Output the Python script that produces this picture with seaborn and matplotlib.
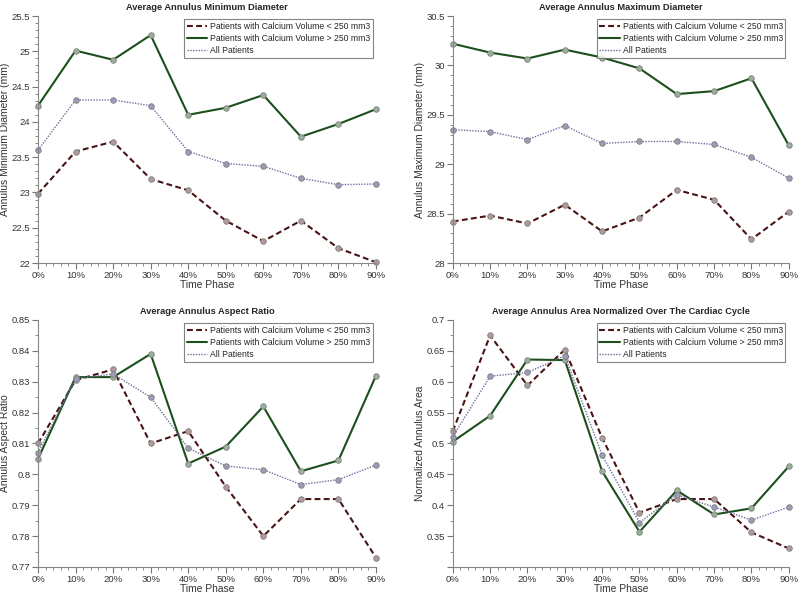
import numpy as np
import pandas as pd
import seaborn as sns
import matplotlib.pyplot as plt
from matplotlib.ticker import MultipleLocator, FuncFormatter

# Data
phases = [0, 10, 20, 30, 40, 50, 60, 70, 80, 90]
phase_labels = ['0%', '10%', '20%', '30%', '40%', '50%', '60%', '70%', '80%', '90%']
series_names = ['Patients with Calcium Volume < 250 mm3',
                'Patients with Calcium Volume > 250 mm3',
                'All Patients']

min_low = [22.98, 23.58, 23.72, 23.19, 23.03, 22.60, 22.31, 22.60, 22.21, 22.01]
min_high = [24.23, 25.01, 24.88, 25.23, 24.10, 24.20, 24.38, 23.79, 23.97, 24.18]
min_all = [23.60, 24.31, 24.31, 24.23, 23.58, 23.41, 23.37, 23.20, 23.11, 23.12]

max_low = [28.42, 28.48, 28.40, 28.59, 28.32, 28.46, 28.74, 28.64, 28.24, 28.52]
max_high = [30.22, 30.13, 30.07, 30.16, 30.08, 29.97, 29.71, 29.74, 29.87, 29.19]
max_all = [29.35, 29.33, 29.25, 29.39, 29.21, 29.23, 29.23, 29.20, 29.07, 28.86]

ar_low = [0.810, 0.8305, 0.834, 0.810, 0.814, 0.796, 0.780, 0.792, 0.792, 0.773]
ar_high = [0.805, 0.8315, 0.8315, 0.839, 0.8035, 0.809, 0.822, 0.801, 0.8045, 0.832]
ar_all = [0.807, 0.831, 0.8325, 0.825, 0.8085, 0.8027, 0.8015, 0.7967, 0.7983, 0.803]

area_low = [0.520, 0.675, 0.594, 0.652, 0.509, 0.388, 0.410, 0.410, 0.356, 0.330]
area_high = [0.503, 0.545, 0.636, 0.635, 0.455, 0.357, 0.424, 0.385, 0.395, 0.463]
area_all = [0.511, 0.609, 0.615, 0.642, 0.481, 0.372, 0.417, 0.397, 0.376, 0.397]

sns.set_theme(style='white')
plt.rcParams['font.family'] = ['Liberation Sans', 'DejaVu Sans']

line_colors = ['#4a1414', '#1c4f1c', '#6e6e9c']
marker_faces = ['#b39a9a', '#98b098', '#9c9cb8']
line_styles = [(0, (2.8, 1.6)), '-', (0, (1, 1))]
line_widths = [1.5, 1.5, 1.0]

panels = [
    dict(title='Average Annulus Minimum Diameter', ylabel='Annulus Minimum Diameter (mm)',
         data=[min_low, min_high, min_all], ylim=(22, 25.5), major=0.5, minor=0.1),
    dict(title='Average Annulus Maximum Diameter', ylabel='Annulus Maximum Diameter (mm)',
         data=[max_low, max_high, max_all], ylim=(28, 30.5), major=0.5, minor=0.1),
    dict(title='Average Annulus Aspect Ratio', ylabel='Annulus Aspect Ratio',
         data=[ar_low, ar_high, ar_all], ylim=(0.77, 0.85), major=0.01, minor=0.005),
    dict(title='Average Annulus Area Normalized Over The Cardiac Cycle', ylabel='Normalized Annulus Area',
         data=[area_low, area_high, area_all], ylim=(0.3, 0.7), major=0.05, minor=0.025),
]

positions = [
    [0.0475, 0.5587, 0.4225, 0.4144],
    [0.566, 0.5587, 0.420, 0.4144],
    [0.0475, 0.0487, 0.4225, 0.4144],
    [0.566, 0.0487, 0.420, 0.4144],
]

fig = plt.figure(figsize=(8, 5.96), dpi=100)

for pos, p in zip(positions, panels):
    ax = fig.add_axes(pos)
    for i, vals in enumerate(p['data']):
        df = pd.DataFrame({'phase': phases, 'value': vals})
        sns.lineplot(data=df, x='phase', y='value', ax=ax, color=line_colors[i],
                     linestyle=line_styles[i], linewidth=line_widths[i],
                     marker='o', markersize=4, markerfacecolor=marker_faces[i],
                     markeredgecolor='#808080', markeredgewidth=0.6,
                     label=series_names[i], clip_on=False)
    ax.set_xlim(0, 90)
    ax.set_ylim(*p['ylim'])
    ax.set_xticks(phases)
    ax.set_xticklabels(phase_labels)
    ax.xaxis.set_minor_locator(MultipleLocator(2))
    ax.yaxis.set_major_locator(MultipleLocator(p['major']))
    ax.yaxis.set_minor_locator(MultipleLocator(p['minor']))
    lo = p['ylim'][0]
    ax.yaxis.set_major_formatter(FuncFormatter(
        lambda v, _pos, lo=lo: '' if (lo == 0.3 and abs(v - 0.3) < 1e-9) else f'{round(v, 3):g}'))
    ax.tick_params(axis='both', which='major', labelsize=6.8, labelcolor='#333333',
                   color='#777777', length=4, width=0.8, direction='out', pad=1.5,
                   bottom=True, left=True)
    ax.tick_params(axis='both', which='minor', length=2.5, width=0.6, color='#777777',
                   direction='out', bottom=True, left=True)
    for s in ['top', 'right']:
        ax.spines[s].set_visible(False)
    for s in ['left', 'bottom']:
        ax.spines[s].set_color('#888888')
        ax.spines[s].set_linewidth(0.8)
    ax.set_title(p['title'], fontsize=6.7, fontweight='bold', pad=4)
    ax.set_xlabel('Time Phase', fontsize=7.4, color='#333333', labelpad=0)
    ax.set_ylabel(p['ylabel'], fontsize=7.4, color='#333333', labelpad=1)
    ax.grid(False)
    leg = ax.legend(loc='upper right', fontsize=6.2, frameon=True, fancybox=False,
                    handlelength=2.4, handletextpad=0.3, borderpad=0.3,
                    labelspacing=0.35, borderaxespad=0.4)
    leg.get_frame().set_edgecolor('#666666')
    leg.get_frame().set_linewidth(0.8)
    for h in leg.legend_handles:
        h.set_marker('')

fig.savefig('out.png', dpi=100)
plt.close(fig)
